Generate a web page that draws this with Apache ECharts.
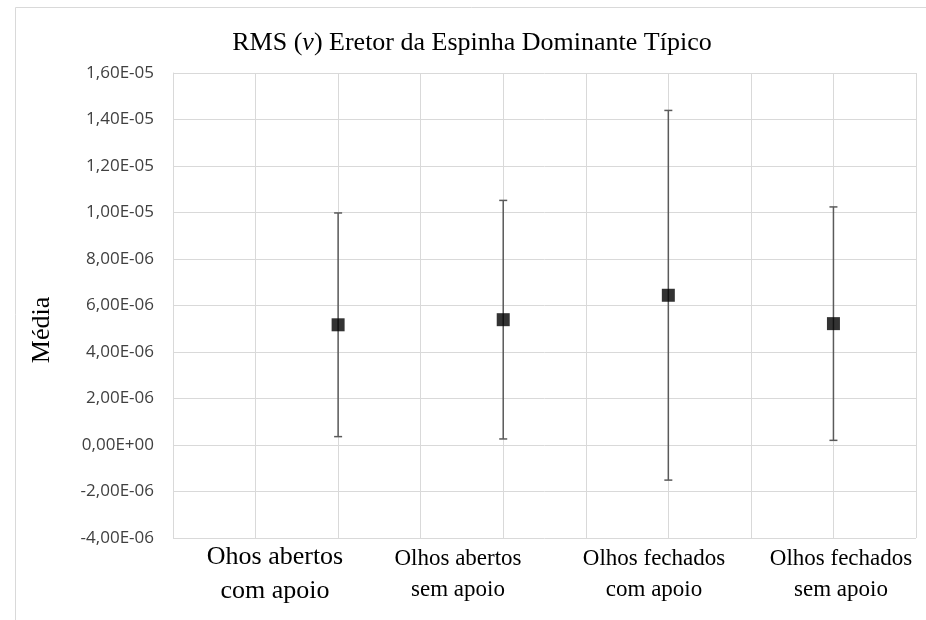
<!DOCTYPE html>
<html><head><meta charset="utf-8">
<script src="https://cdn.jsdelivr.net/npm/echarts@6/dist/echarts.min.js"></script>
<style>html,body{margin:0;padding:0;background:#fff}#c{width:926px;height:620px}</style>
</head><body><div id="c"></div>
<script>
const categories = ['Ohos abertos\ncom apoio','Olhos abertos\nsem apoio','Olhos fechados\ncom apoio','Olhos fechados\nsem apoio'];
const xPositions = [1, 2, 3, 4];
const means = [5.17e-6, 5.39e-6, 6.44e-6, 5.22e-6];
const sds = [4.81e-6, 5.13e-6, 7.95e-6, 5.02e-6];
const yTicks = [-4e-6, -2e-6, 0, 2e-6, 4e-6, 6e-6, 8e-6, 1e-5, 1.2e-5, 1.4e-5, 1.6e-5];

function fmtSci(v){
  if (Math.abs(v) < 1e-12) return '0,00E+00';
  const e = Math.floor(Math.log10(Math.abs(v)) + 1e-9);
  let m = v / Math.pow(10, e);
  const sign = e < 0 ? '-' : '+';
  const ee = String(Math.abs(e)).padStart(2,'0');
  return m.toFixed(2).replace('.', ',') + 'E' + sign + ee;
}

const chart = echarts.init(document.getElementById('c'));
const labelCenters = [275, 458, 654, 841];
const labelSizes = [26, 23, 23, 23];
const labelTops = [540, 543, 543, 543];
const labelLH = [34, 31, 31, 31];
const graphics = [
  {type:'rect', shape:{x:15.5,y:7.5,width:920,height:640}, style:{fill:'none',stroke:'#d9d9d9',lineWidth:1}, silent:true, z:-1},
  {type:'text', x:42, y:330, rotation:Math.PI/2, style:{text:'Média', fill:'#000', font:'26px "Liberation Serif", serif', textAlign:'center', textVerticalAlign:'middle'}}
];
categories.forEach((c,i)=>{
  graphics.push({type:'text', x:labelCenters[i], y:labelTops[i], style:{text:c, fill:'#000', font: labelSizes[i]+'px "Liberation Serif", "Times New Roman", serif', textAlign:'center', textVerticalAlign:'top', lineHeight: labelLH[i]}});
});

chart.setOption({
  animation:false,
  title:{
    text:'{n|RMS (}{i|v}{n|) Eretor da Espinha Dominante Típico}',
    left:467, top:25, textAlign:'center',
    textStyle:{rich:{
      n:{fontFamily:'"Liberation Serif", serif', fontSize:26, fontWeight:'normal', color:'#000'},
      i:{fontFamily:'"Liberation Serif", serif', fontSize:26, fontWeight:'normal', fontStyle:'italic', color:'#000'}
    }}
  },
  graphic: graphics,
  grid:{left:173, top:73, right:10, bottom:82},
  xAxis:{type:'value', min:0, max:4.5, interval:0.5,
    axisLine:{show:false}, axisTick:{show:false}, axisLabel:{show:false},
    splitLine:{show:true, lineStyle:{color:'#d9d9d9', width:1}}},
  yAxis:{type:'value', min:-4e-6, max:1.6e-5, interval:2e-6,
    axisLine:{show:true, lineStyle:{color:'#d9d9d9'}}, axisTick:{show:false},
    axisLabel:{formatter:fmtSci, fontFamily:'"Open Sans", "Liberation Sans", sans-serif', fontSize:17, color:'#404040', margin:19},
    splitLine:{show:true, lineStyle:{color:'#d9d9d9', width:1}}},
  series:[
    {type:'custom', z:2,
     data: xPositions.map((x,i)=>[x, means[i]-sds[i], means[i]+sds[i]]),
     renderItem:(params, api)=>{
       const x = api.value(0);
       const lo = api.coord([x, api.value(1)]);
       const hi = api.coord([x, api.value(2)]);
       const w = 4;
       const st = {stroke:'#5a5a5a', lineWidth:1.5};
       return {type:'group', children:[
         {type:'line', shape:{x1:lo[0],y1:lo[1],x2:hi[0],y2:hi[1]}, style:st},
         {type:'line', shape:{x1:lo[0]-w,y1:lo[1],x2:lo[0]+w,y2:lo[1]}, style:st},
         {type:'line', shape:{x1:hi[0]-w,y1:hi[1],x2:hi[0]+w,y2:hi[1]}, style:st}
       ]};
     }},
    {type:'scatter', z:3, symbol:'rect', symbolSize:13,
     itemStyle:{color:'#000'},
     data: xPositions.map((x,i)=>[x, means[i]])}
  ]
});
</script></body></html>
